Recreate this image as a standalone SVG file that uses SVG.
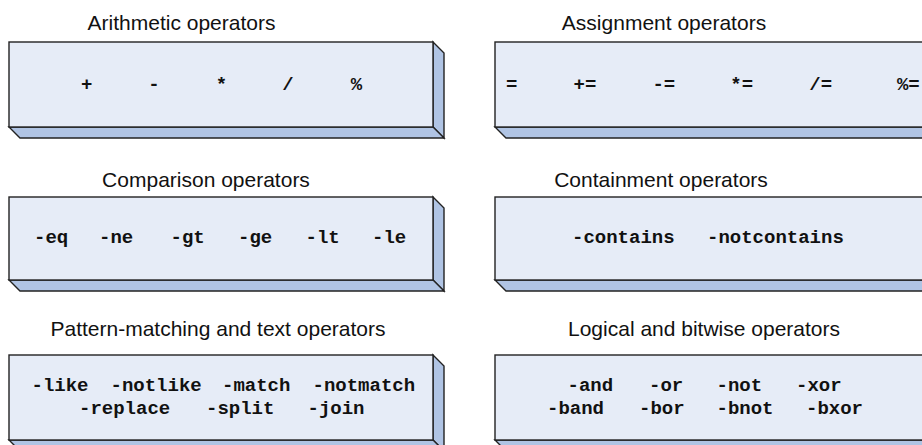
<svg xmlns="http://www.w3.org/2000/svg" width="922" height="445" viewBox="0 0 922 445">
<style>
.bg{fill:#ffffff}
.front{fill:#e6ecf7;stroke:#222;stroke-width:1.4}
.side{fill:#b0c4e4;stroke:#222;stroke-width:1.4;stroke-linejoin:miter}
.title{font-family:"Liberation Sans",Arial,sans-serif;font-size:21px;fill:#111;text-anchor:middle}
.op{font-family:"Liberation Mono","Courier New",monospace;font-size:19px;font-weight:bold;fill:#111}
.opc{font-family:"Liberation Mono","Courier New",monospace;font-size:19px;font-weight:bold;fill:#111;text-anchor:middle}
</style>
<rect class="bg" x="0" y="0" width="922" height="445"/>
<g id="connectors"/>

<g id="arithmetic">
<text class="title" x="181.5" y="30">Arithmetic operators</text>
<polygon class="side" points="433,42 444,53 444,138 433,127"/>
<polygon class="side" points="9,127 433,127 444,138 20,138"/>
<rect class="front" x="9" y="42" width="424" height="85"/>
<text class="opc" x="86.7" y="90">+</text>
<text class="opc" x="154" y="90">-</text>
<text class="opc" x="221.5" y="90">*</text>
<text class="opc" x="288" y="90">/</text>
<text class="opc" x="356.5" y="90">%</text>
</g>

<g id="assignment">
<text class="title" x="664" y="30">Assignment operators</text>
<polygon class="side" points="924,42 935,53 935,138 924,127"/>
<polygon class="side" points="495,127 924,127 935,138 506,138"/>
<rect class="front" x="495" y="42" width="429" height="85"/>
<text class="opc" x="511.7" y="90">=</text>
<text class="opc" x="585" y="90">+=</text>
<text class="opc" x="663.8" y="90">-=</text>
<text class="opc" x="741.7" y="90">*=</text>
<text class="opc" x="820.7" y="90">/=</text>
<text class="opc" x="908.3" y="90">%=</text>
</g>

<g id="comparison">
<text class="title" x="206" y="187">Comparison operators</text>
<polygon class="side" points="433,197 444,208 444,291 433,280"/>
<polygon class="side" points="9,280 433,280 444,291 20,291"/>
<rect class="front" x="9" y="197" width="424" height="83"/>
<text class="op" x="34" y="243">-eq</text>
<text class="op" x="99" y="243">-ne</text>
<text class="op" x="170.5" y="243">-gt</text>
<text class="op" x="238" y="243">-ge</text>
<text class="op" x="305.5" y="243">-lt</text>
<text class="op" x="372" y="243">-le</text>
</g>

<g id="containment">
<text class="title" x="661" y="187">Containment operators</text>
<polygon class="side" points="924,197 935,208 935,291 924,280"/>
<polygon class="side" points="495,280 924,280 935,291 506,291"/>
<rect class="front" x="495" y="197" width="429" height="83"/>
<text class="op" x="572" y="243">-contains</text>
<text class="op" x="707" y="243">-notcontains</text>
</g>

<g id="pattern">
<text class="title" x="218" y="336">Pattern-matching and text operators</text>
<polygon class="side" points="433,355 444,366 444,451 433,440"/>
<polygon class="side" points="9,440 433,440 444,451 20,451"/>
<rect class="front" x="9" y="355" width="424" height="85"/>
<text class="op" x="31.5" y="391">-like</text>
<text class="op" x="110.5" y="391">-notlike</text>
<text class="op" x="222" y="391">-match</text>
<text class="op" x="312.5" y="391">-notmatch</text>
<text class="op" x="79" y="414">-replace</text>
<text class="op" x="206" y="414">-split</text>
<text class="op" x="307.5" y="414">-join</text>
</g>

<g id="logical">
<text class="title" x="704" y="336">Logical and bitwise operators</text>
<polygon class="side" points="924,355 935,366 935,451 924,440"/>
<polygon class="side" points="495,440 924,440 935,451 506,451"/>
<rect class="front" x="495" y="355" width="429" height="85"/>
<text class="op" x="567.5" y="391">-and</text>
<text class="op" x="649" y="391">-or</text>
<text class="op" x="716.5" y="391">-not</text>
<text class="op" x="796" y="391">-xor</text>
<text class="op" x="547" y="414">-band</text>
<text class="op" x="639" y="414">-bor</text>
<text class="op" x="716.5" y="414">-bnot</text>
<text class="op" x="806" y="414">-bxor</text>
</g>
</svg>
